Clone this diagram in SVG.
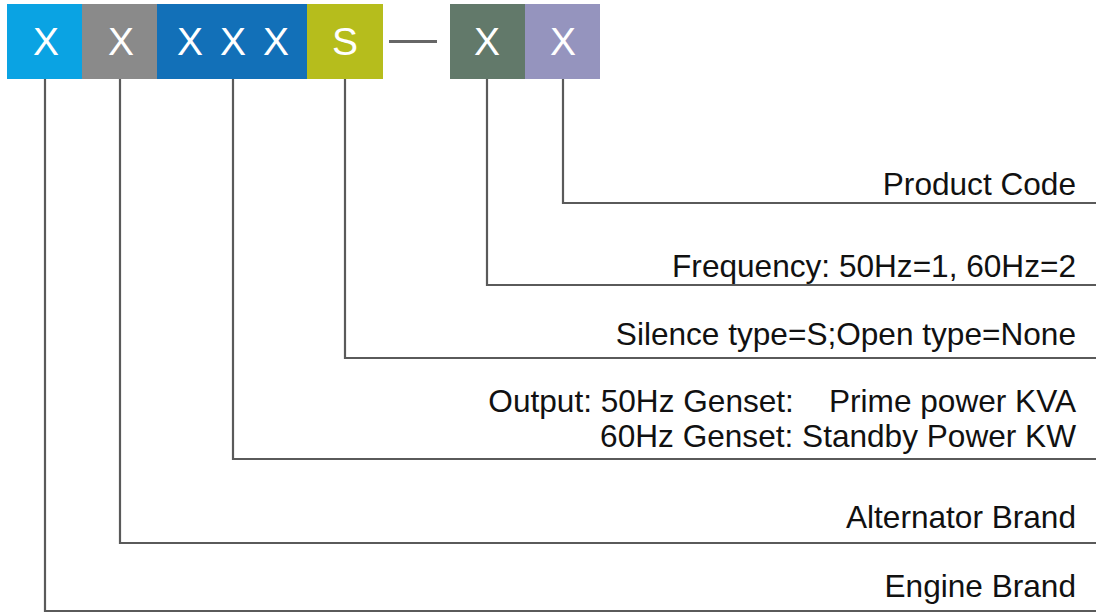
<svg xmlns="http://www.w3.org/2000/svg" width="1096" height="616" viewBox="0 0 1096 616">
<style>
.box text{font-family:"Liberation Sans",Arial,sans-serif;font-size:39px;fill:#fff;text-anchor:middle}
.lbl{font-family:"Liberation Sans",Arial,sans-serif;font-size:31.6px;fill:#111;text-anchor:end}
.conn path{fill:none;stroke:#5a5a5a;stroke-width:2.2}
</style>
<rect width="1096" height="616" fill="#fff"/>
<g id="b1" class="box"><rect x="7" y="4" width="76" height="75" fill="#0aa3e3"/><text x="46" y="55">X</text></g>
<g id="b2" class="box"><rect x="82" y="4" width="76" height="75" fill="#8a8a8a"/><text x="121" y="55">X</text></g>
<g id="b3" class="box"><rect x="157" y="4" width="150" height="75" fill="#1270b8"/><text x="190" y="55">X</text><text x="233" y="55">X</text><text x="276" y="55">X</text></g>
<g id="b4" class="box"><rect x="307" y="4" width="76" height="75" fill="#b6bd1c"/><text x="345" y="55">S</text></g>
<g id="dash"><rect x="389" y="40" width="48" height="3" fill="#666"/></g>
<g id="b5" class="box"><rect x="450" y="4" width="75" height="75" fill="#62796a"/><text x="487" y="55">X</text></g>
<g id="b6" class="box"><rect x="525" y="4" width="75" height="75" fill="#9594be"/><text x="563" y="55">X</text></g>
<g class="conn" id="connectors">
<path d="M563 79V203H1096"/>
<path d="M487 79V285H1096"/>
<path d="M345 79V358H1096"/>
<path d="M233 79V459H1096"/>
<path d="M120 79V543H1096"/>
<path d="M45 79V611H1096"/>
</g>
<g id="labels">
<text class="lbl" x="1076" y="195">Product Code</text>
<text class="lbl" x="1076" y="277">Frequency: 50Hz=1, 60Hz=2</text>
<text class="lbl" x="1076" y="345">Silence type=S;Open type=None</text>
<text class="lbl" x="1076" y="412" xml:space="preserve">Output: 50Hz Genset:    Prime power KVA</text>
<text class="lbl" x="1076" y="447">60Hz Genset: Standby Power KW</text>
<text class="lbl" x="1076" y="528">Alternator Brand</text>
<text class="lbl" x="1076" y="597">Engine Brand</text>
</g>
</svg>
